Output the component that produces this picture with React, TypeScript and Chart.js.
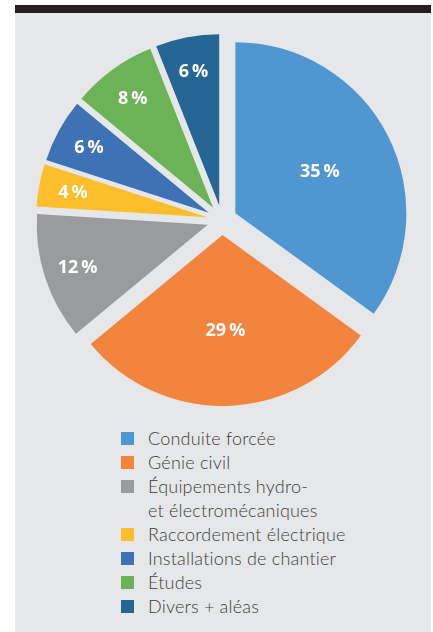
import React, { useEffect, useRef } from 'react';
import { Chart, ArcElement, PieController } from 'chart.js';

const categories = [
  'Conduite forcée',
  'Génie civil',
  'Équipements hydro-\net électromécaniques',
  'Raccordement électrique',
  'Installations de chantier',
  'Études',
  'Divers + aléas',
];
const shares = [35, 29, 12, 4, 6, 8, 6];
const sliceColors = ['#5097d2', '#f2843d', '#999c9d', '#fdbe2c', '#3e72b7', '#6cb257', '#266695'];

class ExplodedArc extends (ArcElement as any) {
  static id = 'explodedArc';
  static defaults = { explode: 0 };
  draw(ctx: CanvasRenderingContext2D) {
    const self: any = this;
    const e = (self.options && self.options.explode) || 0;
    const half = (self.startAngle + self.endAngle) / 2;
    ctx.save();
    ctx.translate(Math.cos(half) * e, Math.sin(half) * e);
    super.draw(ctx);
    ctx.restore();
  }
}

class ExplodedPieController extends (PieController as any) {
  static id = 'explodedPie';
  static defaults = { dataElementType: 'explodedArc' };
}

Chart.register(ArcElement, ExplodedArc as any, PieController, ExplodedPieController as any);

const sliceLabels = {
  id: 'sliceLabels',
  afterDatasetsDraw(chart: any) {
    const { ctx } = chart;
    const meta = chart.getDatasetMeta(0);
    ctx.save();
    ctx.fillStyle = '#ffffff';
    const size = 18;
    ctx.font = `bold ${size}px "Open Sans", "DejaVu Sans", sans-serif`;
    ctx.textAlign = 'center';
    ctx.textBaseline = 'alphabetic';
    meta.data.forEach((arc: any, i: number) => {
      const { x, y, startAngle, endAngle, outerRadius } = arc.getProps(
        ['x', 'y', 'startAngle', 'endAngle', 'outerRadius'],
        true
      );
      const e = (arc.options && arc.options.explode) || 0;
      const mid = (startAngle + endAngle) / 2;
      const frac = shares[i] >= 20 ? 0.555 : 0.8;
      const r = e + frac * outerRadius;
      const px = x + Math.cos(mid) * r;
      const py = y + Math.sin(mid) * r + size * 0.36;
      ctx.fillText(`${shares[i]}\u2009%`, px, py);
    });
    ctx.restore();
  },
};

export default function App() {
  const canvasRef = useRef<HTMLCanvasElement | null>(null);

  useEffect(() => {
    if (!canvasRef.current) return;
    const chart = new Chart(canvasRef.current, {
      type: 'explodedPie' as any,
      data: {
        labels: categories,
        datasets: [
          {
            data: shares,
            backgroundColor: sliceColors,
            borderWidth: 0,
            explode: 15,
          } as any,
        ],
      },
      options: {
        responsive: false,
        animation: false,
        radius: 171,
        layout: { padding: 0 },
        events: [],
        plugins: { legend: { display: false }, tooltip: { enabled: false } },
      } as any,
      plugins: [sliceLabels],
    });
    return () => chart.destroy();
  }, []);

  return (
    <div style={{ position: 'absolute', left: 0, top: 0, width: 433, height: 632, background: '#ffffff', overflow: 'hidden' }}>
      <div
        style={{
          position: 'absolute',
          left: 15,
          top: 5,
          width: 416,
          height: 627,
          background: '#e6e7e8',
          borderTop: '8px solid #231f20',
          boxSizing: 'border-box',
        }}
      />
      <canvas
        ref={canvasRef}
        width={400}
        height={400}
        style={{ position: 'absolute', left: 22, top: 20, width: 400, height: 400 }}
      />
      <div
        style={{
          position: 'absolute',
          left: 121,
          top: 426,
          fontFamily: 'Lato, "Open Sans", sans-serif',
          fontWeight: 300,
          fontSize: 18,
          letterSpacing: '0.2px',
          lineHeight: '24px',
          color: '#3d3d3d',
        }}
      >
        {categories.map((c, i) => (
          <div key={i} style={{ display: 'flex', alignItems: 'flex-start' }}>
            <div style={{ width: 13, height: 13, marginTop: 6, marginRight: 14, background: sliceColors[i], flex: 'none' }} />
            <div style={{ whiteSpace: 'pre-line' }}>{c}</div>
          </div>
        ))}
      </div>
    </div>
  );
}
